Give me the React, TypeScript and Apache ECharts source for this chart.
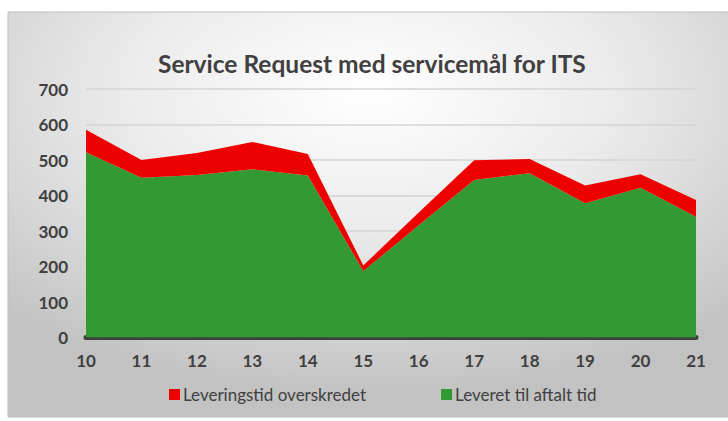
import React, { useEffect, useRef } from "react";
import * as echarts from "echarts";

const categories = ["10", "11", "12", "13", "14", "15", "16", "17", "18", "19", "20", "21"];
const onTime = [522, 450, 458, 474, 456, 187, 316, 444, 463, 378, 422, 340];
const overdue = [63, 50, 62, 77, 61, 16, 36, 55, 40, 50, 38, 47];
const seriesNames = ["Leveringstid overskredet", "Leveret til aftalt tid"];
const title = "Service Request med servicemål for ITS";

const FONT = "Lato, 'Open Sans', sans-serif";

export default function App() {
  const ref = useRef<HTMLDivElement>(null);
  useEffect(() => {
    if (!ref.current) return;
    const chart = echarts.init(ref.current, null, { renderer: "svg" });
    chart.setOption({
      animation: false,
      graphic: [
        {
          type: "rect",
          z: -10,
          silent: true,
          shape: { x: 8, y: 12, width: 722, height: 405 },
          style: {
            fill: {
              type: "radial",
              x: 0.5,
              y: 0.2,
              r: 0.75,
              colorStops: [
                { offset: 0, color: "#ffffff" },
                { offset: 0.45, color: "#ebebeb" },
                { offset: 1, color: "#c2c2c2" },
              ],
            },
            stroke: "#bfbfbf",
            lineWidth: 1,
          },
        },
      ],
      title: {
        text: title,
        left: 153,
        top: 46,
        textStyle: { fontFamily: FONT, fontSize: 24.5, fontWeight: "bold", color: "#404040" },
      },
      legend: {
        data: seriesNames,
        top: 386,
        left: 169,
        padding: 0,
        itemGap: 75,
        itemWidth: 11,
        itemHeight: 11,
        icon: "rect",
        textStyle: { fontFamily: FONT, fontSize: 17, color: "#404040", padding: [0, 0, 0, -2] },
      },
      grid: { left: 86, right: 32, top: 89, bottom: 83.5, containLabel: false },
      xAxis: {
        type: "category",
        data: categories,
        boundaryGap: false,
        axisTick: { show: false },
        axisLine: { lineStyle: { color: "#404040", width: 5 } },
        axisLabel: { fontFamily: FONT, fontSize: 17, fontWeight: "bold", color: "#404040", margin: 14 },
      },
      yAxis: {
        type: "value",
        min: 0,
        max: 700,
        interval: 100,
        axisLine: { show: false },
        axisTick: { show: false },
        splitLine: { lineStyle: { color: "#d5d5d5", width: 1.5 } },
        axisLabel: { fontFamily: FONT, fontSize: 17, fontWeight: "bold", color: "#404040", margin: 18 },
      },
      series: [
        {
          name: seriesNames[1],
          type: "line",
          stack: "total",
          data: onTime,
          showSymbol: false,
          lineStyle: { width: 0 },
          areaStyle: { color: "#339933", opacity: 1 },
          itemStyle: { color: "#339933" },
        },
        {
          name: seriesNames[0],
          type: "line",
          stack: "total",
          data: overdue,
          showSymbol: false,
          lineStyle: { width: 0 },
          areaStyle: { color: "#ee0000", opacity: 1 },
          itemStyle: { color: "#ee0000" },
        },
      ],
    });
    return () => chart.dispose();
  }, []);
  return (
    <div
      ref={ref}
      style={{ position: "absolute", left: 0, top: 0, width: 728, height: 421 }}
    />
  );
}
